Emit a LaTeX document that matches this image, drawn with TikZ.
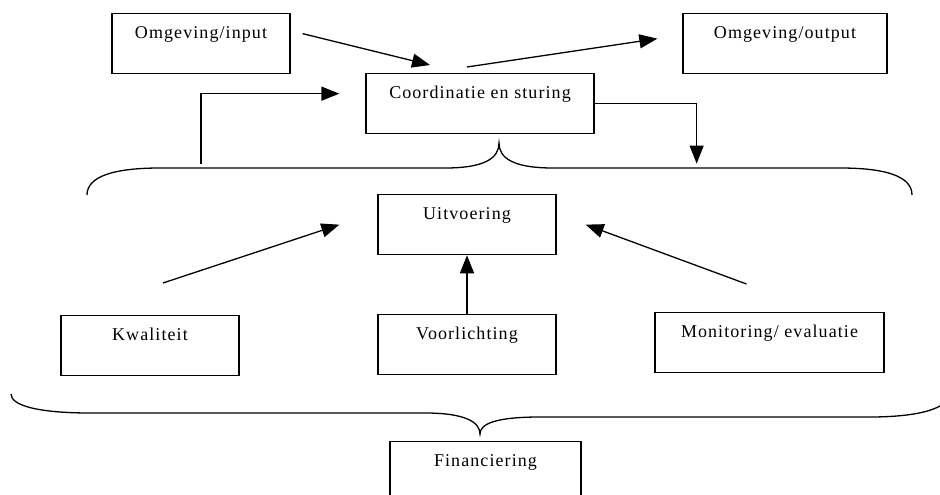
\documentclass[tikz,border=0pt]{standalone}
\usepackage{fontspec}
\setmainfont{Liberation Serif}[LetterSpace=6]
\usetikzlibrary{arrows.meta,calc}
\begin{document}
\begin{tikzpicture}[x=1pt,y=-1pt,
  box/.style={draw,line width=1.3pt,inner sep=0pt,anchor=north,minimum height=60pt,
    text height=25pt,text depth=35pt,font=\fontsize{18}{20}\selectfont},
  arr/.style={line width=1.3pt,-{Triangle[length=18pt,width=14pt]}}]
\useasboundingbox (0,0) rectangle (940,495);

\node[box,minimum width=178pt] (input) at (201,13) {Omgeving/input};
\node[box,minimum width=204pt] (output) at (785,13) {Omgeving/output};
\node[box,minimum width=228pt] (coord) at (480,73) {Coordinatie en sturing};
\node[box,minimum width=178pt] (uitv) at (467,194) {Uitvoering};
\node[box,minimum width=178pt] (kwal) at (150,315) {Kwaliteit};
\node[box,minimum width=178pt] (voorl) at (467,314) {Voorlichting};
\node[box,minimum width=229pt] (monit) at (769.5,312) {Monitoring/ evaluatie};
\node[box,minimum width=191pt] (fin) at (485.5,441) {Financiering};

\draw[arr] ($(input.east)+(12,-10)$) -- ($(coord.north)+(-50,-8)$);
\draw[arr] ($(coord.north)+(-13,-6)$) -- ($(output.west)+(-25,-5)$);
\draw[arr] ($(input.south)+(0,90)$) |- ($(coord.west)+(-26,-10)$);
\draw[arr] (coord.east) -| ($(coord.east)+(102,60)$);

\draw[arr] ($(kwal.north)+(13,-32)$) -- ($(uitv.west)+(-38,0)$);
\draw[arr] (voorl.north) -- (uitv.south);
\draw[arr] ($(monit.north)+(-23,-28)$) -- ($(uitv.east)+(29,0)$);

% braces
\draw[line width=1.3pt] (87,195) .. controls (87,176) and (115,168) .. (160,168) -- (445,168)
  .. controls (485,168) and (499,158) .. (499,143) .. controls (499,158) and (513,168) .. (553,168)
  -- (840,168) .. controls (885,168) and (912,176) .. (912,195);
\draw[line width=1.3pt] (11,394) .. controls (11,406) and (40,413) .. (90,413) -- (425,413)
  .. controls (465,413) and (480,422) .. (480,434) .. controls (480,424) and (495,417) .. (540,417)
  -- (870,417) .. controls (920,417) and (949,408) .. (949,394);
\end{tikzpicture}
\end{document}
